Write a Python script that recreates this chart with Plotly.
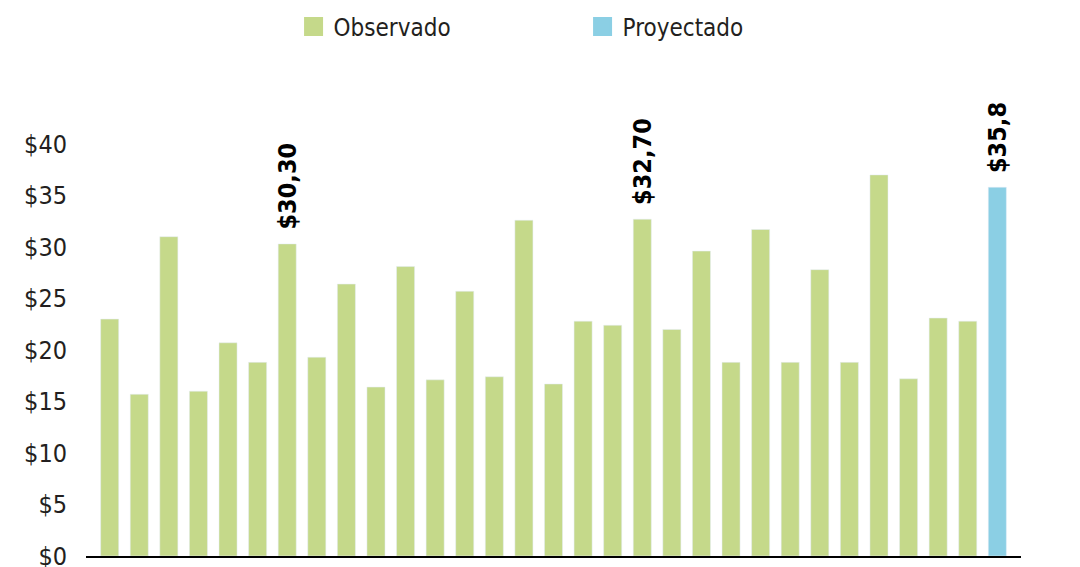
import plotly.graph_objects as go

# ---- data ----
categories = list(range(1, 32))
observed_values = [23.0, 15.7, 31.0, 16.0, 20.7, 18.8, 30.3, 19.3, 26.4, 16.4,
                   28.1, 17.1, 25.7, 17.4, 32.6, 16.7, 22.8, 22.4, 32.7, 22.0,
                   29.6, 18.8, 31.7, 18.8, 27.8, 18.8, 37.0, 17.2, 23.1, 22.8]
projected_values = [35.8]
label_points = [7, 19, 31]
label_texts = ["$30,30", "$32,70", "$35,8"]
tick_values = [0, 5, 10, 15, 20, 25, 30, 35, 40]
tick_texts = ["$0", "$5", "$10", "$15", "$20", "$25", "$30", "$35", "$40"]
series_names = ["Observado", "Proyectado"]

GREEN = "#C5D98A"
BLUE = "#8BCFE4"
FONT = "Liberation Sans Narrow, DejaVu Sans Condensed, Arial Narrow, sans-serif"

obs_x = categories[:len(observed_values)]
proj_x = categories[len(observed_values):]
all_values = observed_values + projected_values

fig = go.Figure()
fig.add_trace(go.Bar(x=obs_x, y=observed_values, marker_color=GREEN,
                     width=0.61, showlegend=False, name=series_names[0]))
fig.add_trace(go.Bar(x=proj_x, y=projected_values, marker_color=BLUE,
                     width=0.61, showlegend=False, name=series_names[1]))
# legend entries with larger squares
for nm, col in zip(series_names, [GREEN, BLUE]):
    fig.add_trace(go.Scatter(x=[None], y=[None], mode="markers", name=nm,
                             marker=dict(symbol="square", size=16, color=col,
                                         line=dict(color=col, width=3))))

for xp, txt in zip(label_points, label_texts):
    fig.add_annotation(x=xp, y=all_values[xp - 1], text="<b>" + txt + "</b>",
                       textangle=-90, showarrow=False, yanchor="bottom",
                       yshift=12, font=dict(family=FONT, size=25, color="#000000"))

fig.update_layout(
    width=1080, height=567,
    margin=dict(l=86, r=59, t=144, b=11, autoexpand=False),
    paper_bgcolor="white", plot_bgcolor="white",
    barmode="overlay",
    font=dict(family=FONT, size=24, color="#231F20"),
    legend=dict(orientation="h", x=0.222, xanchor="left", y=1.284, yanchor="middle",
                font=dict(family=FONT, size=24, color="#231F20"),
                entrywidth=244, itemsizing="trace"),
    xaxis=dict(range=[0.2, 31.8], showticklabels=False, ticks="", showgrid=False,
               showline=True, linecolor="#000000", linewidth=1.5, zeroline=False,
               automargin=False),
    yaxis=dict(range=[0, 40], tickvals=tick_values, ticktext=tick_texts,
               showgrid=False, zeroline=False, showline=False, ticks="",
               ticklabeloverflow="allow", automargin=False,
               ticklabelstandoff=18, tickfont=dict(family=FONT, size=25, color="#231F20")),
)

fig.write_html("out.html")
